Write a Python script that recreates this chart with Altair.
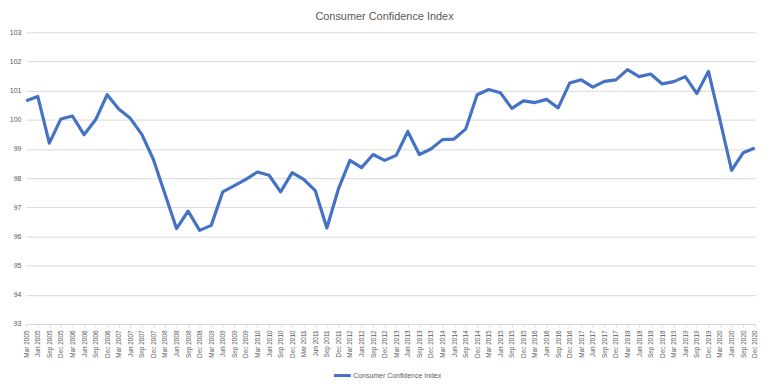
import altair as alt
import pandas as pd

years = list(range(2005, 2021))
months = ["Mar", "Jun", "Sep", "Dec"]
quarters = [f"{m} {y}" for y in years for m in months]

index_values = [
    100.65, 100.80, 99.20, 100.03,
    100.13, 99.49, 100.00, 100.86,
    100.37, 100.05, 99.50, 98.64,
    97.46, 96.27, 96.87, 96.21,
    96.38, 97.53, 97.74, 97.96,
    98.21, 98.10, 97.53, 98.19,
    97.96, 97.57, 96.29, 97.63,
    98.61, 98.36, 98.81, 98.61,
    98.78, 99.60, 98.81, 99.00,
    99.32, 99.34, 99.68, 100.86,
    101.04, 100.93, 100.39, 100.65,
    100.59, 100.70, 100.41, 101.26,
    101.37, 101.12, 101.32, 101.37,
    101.72, 101.48, 101.57, 101.23,
    101.31, 101.48, 100.90, 101.66,
    99.99, 98.27, 98.87, 99.03,
]
series_name = "Consumer Confidence Index"
y_ticks = list(range(93, 104))

df = pd.DataFrame({"quarter": quarters, "value": index_values, "series": series_name})

chart = alt.Chart(df).mark_line(strokeWidth=3.2, strokeJoin="round").encode(
    x=alt.X(
        "quarter:N",
        sort=quarters,
        scale=alt.Scale(type="point", padding=0.03),
        axis=alt.Axis(
            title=None,
            labelAngle=270,
            labelFontSize=6.5,
            labelColor="#595959",
            labelPadding=3,
            labelFont="Liberation Sans",
            domainColor="#d9d9d9",
            tickColor="#d9d9d9",
            tickSize=3,
            grid=False,
            labelOverlap=False,
        ),
    ),
    y=alt.Y(
        "value:Q",
        scale=alt.Scale(domain=[93, 103], nice=False, zero=False),
        axis=alt.Axis(
            title=None,
            values=y_ticks,
            labelFontSize=7,
            labelColor="#595959",
            labelFont="Liberation Sans",
            labelPadding=5,
            domain=False,
            ticks=False,
            gridColor="#d9d9d9",
            gridWidth=1,
        ),
    ),
    color=alt.Color(
        "series:N",
        scale=alt.Scale(range=["#4472C4"]),
        legend=alt.Legend(
            title=None,
            orient="none",
            legendX=309,
            legendY=336,
            symbolType="stroke",
            symbolStrokeWidth=3,
            symbolSize=289,
            labelFontSize=7,
            labelColor="#595959",
            labelFont="Liberation Sans",
            labelOffset=1,
        ),
    ),
).properties(
    width=735,
    height=294,
    title=alt.TitleParams(
        "Consumer Confidence Index",
        fontSize=11,
        fontWeight="normal",
        color="#595959",
        font="Liberation Sans",
        anchor="middle",
        dx=-6,
        offset=6,
    ),
    autosize=alt.AutoSizeParams(type="none"),
    padding={"left": 18, "top": 23, "right": 5, "bottom": 58},
).configure_view(stroke=None)

chart.save("out.html", embed_options={"renderer": "svg", "actions": False})
